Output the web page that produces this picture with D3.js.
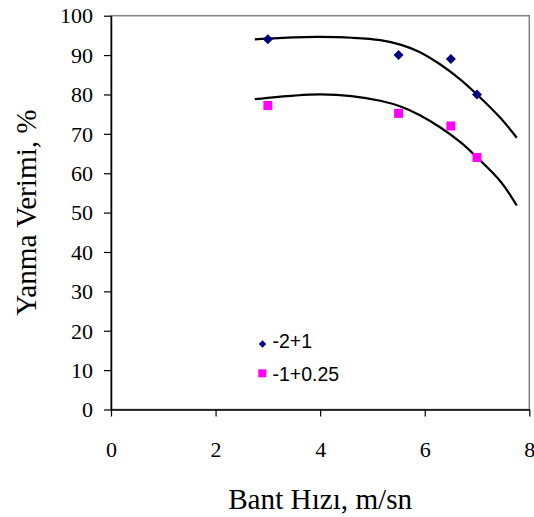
<!DOCTYPE html>
<html>
<head>
<meta charset="utf-8">
<script src="https://cdn.jsdelivr.net/npm/d3@7"></script>
<style>
  html, body { margin: 0; padding: 0; background: #fff; }
  svg { display: block; }
</style>
</head>
<body>
<svg id="chart" width="534" height="517"></svg>
<script>
// Measured points: belt speed (m/s) vs. combustion efficiency (%)
const hizlar = [3, 5.5, 6.5, 7];
const seri1 = [94, 90, 89, 80];        // -2+1
const seri2 = [77.2, 75.2, 72, 64];    // -1+0.25

// Trend curves for both series
const trendX = [2.75, 3.5, 4.0, 4.6, 5.15, 5.55, 5.9, 6.3, 6.7, 7.0, 7.45, 7.76];
const trend1 = [94.0, 94.5, 94.6, 94.4, 93.8, 92.6, 90.8, 87.6, 83.6, 80.0, 74.0, 69.0];
const trend2 = [78.8, 79.7, 80.0, 79.6, 78.4, 76.9, 74.8, 71.6, 67.7, 64.0, 57.9, 51.8];

const xTicks = [0, 2, 4, 6, 8];
const yTicks = [0, 10, 20, 30, 40, 50, 60, 70, 80, 90, 100];
const legendLabels = ["-2+1", "-1+0.25"];

const svg = d3.select("#chart");
const plot = { left: 111, right: 529.3, top: 15.7, bottom: 409.5 };

const x = d3.scaleLinear().domain([0, 8]).range([plot.left, plot.right]);
const y = d3.scaleLinear().domain([0, 100]).range([plot.bottom, plot.top]);

const serif = "'Liberation Serif', 'Times New Roman', serif";
const sans = "'Liberation Sans', Arial, sans-serif";

// plot frame (top and right edges in grey)
svg.append("rect")
  .attr("x", plot.left).attr("y", plot.top)
  .attr("width", plot.right - plot.left).attr("height", plot.bottom - plot.top)
  .attr("fill", "none").attr("stroke", "#808080").attr("stroke-width", 1.5);

// y axis
const gy = svg.append("g")
  .attr("transform", `translate(${plot.left},0)`)
  .call(d3.axisLeft(y).tickValues(yTicks).tickSize(7).tickPadding(11).tickSizeOuter(0));
gy.select(".domain").attr("stroke", "#000").attr("stroke-width", 1.5);
gy.selectAll(".tick line").attr("stroke", "#000").attr("stroke-width", 1.2);
gy.selectAll(".tick text")
  .attr("font-family", serif).attr("font-size", 22).attr("fill", "#000")
  .attr("dy", "0.33em");

// x axis
const gx = svg.append("g")
  .attr("transform", `translate(0,${plot.bottom})`)
  .call(d3.axisBottom(x).tickValues(xTicks).tickSize(7).tickSizeOuter(0));
gx.select(".domain").attr("stroke", "#000").attr("stroke-width", 1.5);
gx.selectAll(".tick line").attr("stroke", "#000").attr("stroke-width", 1.2);
gx.selectAll(".tick text")
  .attr("font-family", serif).attr("font-size", 22).attr("fill", "#000")
  .attr("y", 47).attr("dy", 0);

// axis titles
svg.append("text")
  .attr("x", (plot.left + plot.right) / 2).attr("y", 509.3)
  .attr("text-anchor", "middle")
  .attr("font-family", serif).attr("font-size", 29.2)
  .text("Bant Hızı, m/sn");

svg.append("text")
  .attr("transform", `translate(35.5,${(plot.top + plot.bottom) / 2}) rotate(-90)`)
  .attr("text-anchor", "middle")
  .attr("font-family", serif).attr("font-size", 29.2)
  .text("Yanma Verimi, %");

// trend curves
const line = d3.line()
  .x(d => x(d[0])).y(d => y(d[1]))
  .curve(d3.curveCatmullRom.alpha(0.5));

[trend1, trend2].forEach(t => {
  svg.append("path")
    .datum(trendX.map((v, i) => [v, t[i]]))
    .attr("d", line)
    .attr("fill", "none")
    .attr("stroke", "#000")
    .attr("stroke-width", 2.2);
});

// markers: navy diamonds and magenta squares
svg.append("g").selectAll("path")
  .data(hizlar.map((v, i) => [v, seri1[i]]))
  .join("path")
  .attr("d", d3.symbol().type(d3.symbolSquare).size(50))
  .attr("transform", d => `translate(${x(d[0])},${y(d[1])}) rotate(45)`)
  .attr("fill", "#000080");

svg.append("g").selectAll("rect")
  .data(hizlar.map((v, i) => [v, seri2[i]]))
  .join("rect")
  .attr("x", d => x(d[0]) - 4.5).attr("y", d => y(d[1]) - 4.5)
  .attr("width", 9).attr("height", 9)
  .attr("fill", "#ff00ff");

// legend
const lg = svg.append("g");
lg.append("path")
  .attr("d", d3.symbol().type(d3.symbolSquare).size(28))
  .attr("transform", "translate(262.5,344) rotate(45)")
  .attr("fill", "#000080");
lg.append("rect")
  .attr("x", 258.3).attr("y", 369.3).attr("width", 8).attr("height", 8)
  .attr("fill", "#ff00ff");
lg.selectAll("text")
  .data(legendLabels)
  .join("text")
  .attr("x", 272.5).attr("y", (d, i) => 347.5 + i * 33.2)
  .attr("font-family", sans).attr("font-size", 19.5)
  .text(d => d);
</script>
</body>
</html>
